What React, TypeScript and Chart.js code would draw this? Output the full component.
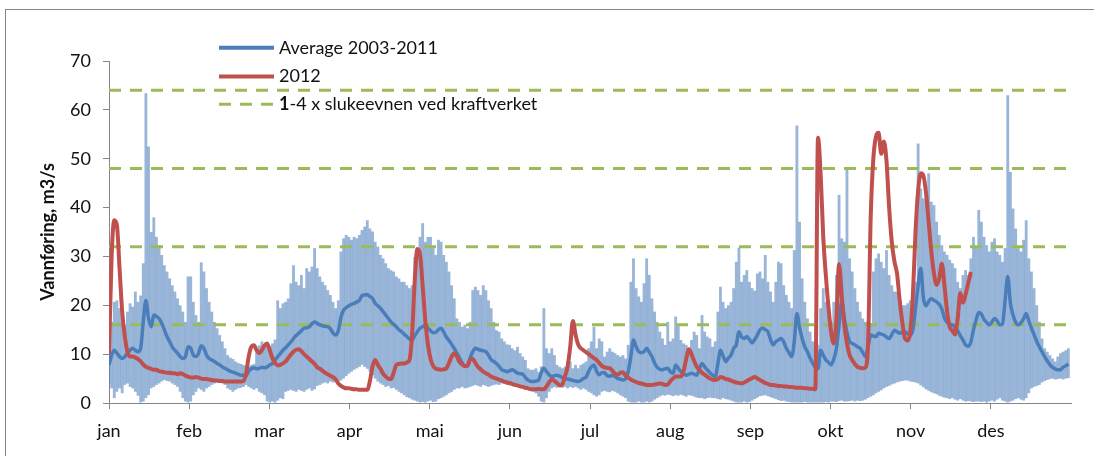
import { useEffect, useRef } from 'react';
import { Chart, registerables } from 'chart.js';

Chart.register(...registerables);

// ---------- data ----------
const MONTHS = ['jan', 'feb', 'mar', 'apr', 'mai', 'jun', 'jul', 'aug', 'sep', 'okt', 'nov', 'des'];
const DAYS_IN_YEAR = 365;
const Y_MIN = 0;
const Y_MAX = 70;
const Y_STEP = 10;
// 1-4 x slukeevnen ved kraftverket
const CAPACITY_LEVELS = [16, 32, 48, 64];

const SERIES_AVG_LABEL = 'Average 2003-2011';
const SERIES_2012_LABEL = '2012';
const CAPACITY_LABEL_BOLD = '1';
const CAPACITY_LABEL_REST = '-4 x slukeevnen ved kraftverket';
const Y_TITLE = 'Vannføring, m3/s';

// daily maximum 2003-2011
const MAX_2003_2011 = [
  11, 16.6, 20.7, 21, 19.4, 16.6, 16, 18.7, 20.4, 19.7,
  22.8, 20.7, 22, 28.6, 63.4, 52.5, 35, 38, 34, 32.3,
  30.3, 28.2, 26.9, 25.5, 24.1, 22.8, 21.4, 20, 18.7, 16.6,
  25.9, 25.9, 20.7, 18, 16.6, 28.8, 26.9, 23.5, 20.7, 18.7,
  16.6, 15.3, 13.9, 12.6, 11.2, 9.8, 9.3, 9, 8.5, 8.2,
  8, 7.8, 7.6, 7.5, 7.8, 8, 11.2, 11.8, 12.6, 11.8,
  12, 11.5, 12.2, 13, 21, 19.4, 20.4, 20.7, 21.4, 24.5,
  28.2, 24.8, 24.1, 26.2, 23.5, 27.6, 26.9, 27.9, 31.7, 27.6,
  25.9, 24.8, 24.1, 23.1, 22.1, 20.7, 19.4, 21, 31, 33.7,
  34.4, 34, 33.4, 34, 33.7, 34.4, 35.4, 36.1, 37.4, 35.7,
  35.1, 33, 32, 30.3, 29.6, 28.6, 27.6, 27.2, 26.9, 25.9,
  25.5, 24.8, 24.8, 24.1, 23.5, 24.1, 29.9, 31, 34, 36.8,
  33, 34, 34, 31.7, 30.3, 33.4, 33, 30.3, 28.9, 26.9,
  24.1, 21.4, 17.3, 16.6, 15.6, 16, 15.3, 16.6, 23.1, 23.8,
  23.1, 22.1, 24.1, 23.1, 21, 19.4, 16.6, 14.9, 14.6, 13.2,
  12.6, 12, 11.9, 11.2, 10.8, 11.5, 10.2, 9.5, 8.8, 7.1,
  6.8, 6.8, 7.1, 6.4, 7.5, 19.4, 11.2, 10.2, 11.2, 9.8,
  7.8, 7.4, 7.1, 7.4, 7.1, 8.5, 7.1, 7.8, 7.1, 7.8,
  8.1, 8.5, 11.2, 12.6, 15.6, 11.2, 13.2, 12.6, 9.5, 10.5,
  11.2, 10.5, 10.2, 9.8, 9.5, 9.8, 9.1, 11.9, 24.8, 29.6,
  23.5, 21.8, 20.7, 24.5, 29.6, 26.2, 21.4, 18.7, 16.6, 14.6,
  13.2, 11.9, 16.6, 12.6, 13.2, 17.7, 16, 12.9, 12.2, 11.9,
  11.2, 12.9, 14.6, 13.9, 11.2, 18, 14.6, 13.6, 13.2, 11.5,
  12.6, 18.7, 23.8, 20.7, 19.4, 20, 20.7, 23.5, 28.9, 31.8,
  24.8, 26.2, 27.2, 24.8, 23.5, 23, 26.5, 26.9, 25.5, 30.3,
  24.8, 22.8, 20.7, 24.8, 28.9, 28.6, 24.1, 22.1, 20.7, 19.4,
  31.3, 56.8, 37.1, 25.5, 20.7, 17.3, 14.6, 12.6, 11.2, 11.9,
  19.4, 23.5, 20.7, 18, 16.6, 20.7, 26.2, 42.6, 33.7, 33,
  48, 29.6, 26.9, 23.5, 20.7, 18.7, 17.3, 16.6, 15.3, 16.3,
  26.9, 29.6, 30.6, 28.9, 27.6, 31.3, 26.2, 24.1, 22.8, 22.8,
  21.4, 20, 20, 20.4, 21, 21.4, 24.8, 53.1, 43.9, 41.9,
  41.2, 47, 41.2, 40.5, 37.1, 34.4, 32.3, 31, 30.3, 29.3,
  28.6, 27.6, 24.8, 23.5, 26.2, 27.2, 26.2, 29.6, 34, 32,
  39.5, 37.1, 34, 32.3, 31, 33, 33.7, 31, 30.3, 28.9,
  31.7, 63, 47.3, 39.8, 35.7, 31.7, 31, 33.4, 37.4, 29.6,
  26.9, 23.5, 20, 16.6, 13.2, 11.2, 10.5, 9.8, 9.1, 8.5,
  9.5, 10.2, 10.5, 10.8, 11.2,
];

// daily minimum 2003-2011
const MIN_2003_2011 = [
  4, 3, 1, 2.3, 3, 2, 3.7, 4, 3.3, 3,
  2.3, 1.5, 0, 0.3, 1, 1.6, 3, 3.3, 3.7, 4,
  4.4, 4.7, 4.5, 4.4, 4, 3.7, 3.3, 2.3, 1, 0.3,
  0, 0.3, 1.6, 2.3, 3, 2.7, 2.3, 3, 3.3, 3.7,
  4, 4.2, 4.2, 4, 3.7, 3, 2.7, 2.3, 2.7, 3,
  3.1, 3.3, 3.7, 3.3, 3, 2.7, 3, 2.3, 2, 1.6,
  0.3, 0, 0.3, 0, 0.5, 1, 0.8, 2.3, 2.5, 2.7,
  2.5, 2.3, 2.7, 2.5, 2.3, 2.7, 3, 2.5, 2.8, 3.5,
  3.7, 4, 4.2, 4, 4.4, 4.2, 4.5, 4.4, 4.6, 5,
  5.5, 6, 6.4, 6.8, 7.1, 7.4, 7.8, 7.4, 7, 6.4,
  5.7, 5, 4.4, 4, 3.7, 3.3, 3.5, 3, 3.1, 2.7,
  2.3, 2, 1.6, 1.2, 1, 0.7, 0.5, 0.3, 0, 0.2,
  0, 0.3, 0.5, 0.2, 0.3, 0.8, 1, 1.3, 1.6, 2,
  2.3, 2.7, 3, 3, 3.3, 3, 3.1, 3.3, 3.5, 3.7,
  3.5, 3.3, 3.7, 3.5, 3.3, 3.5, 3.7, 3.8, 3.7, 4,
  3.9, 3.7, 3.6, 3.7, 3.5, 3.7, 3.3, 3.5, 3.1, 3,
  2.7, 2.3, 2, 1.3, 0.3, 0, 1, 2.3, 3, 3.3,
  3.1, 3.3, 3.1, 3.3, 3, 3.3, 3.1, 3.3, 3, 2.7,
  3, 2.7, 2.3, 2, 1.6, 1.3, 1.6, 2.3, 2.5, 2.3,
  2.2, 2.5, 2.3, 2, 1.6, 1.3, 1, 0.3, 0, 0,
  0, 0.3, 0, 0, 0.3, 0, 0.3, 0.7, 1, 1.3,
  1.6, 1.5, 1.7, 1.6, 1.4, 1.6, 1.5, 1.7, 1.5, 1.3,
  1.6, 1.5, 1.3, 1.1, 1, 1, 0.8, 1, 1.1, 1,
  1, 0.8, 0.7, 1, 0.8, 0.7, 0.5, 0.3, 0, 0,
  0, 0.3, 0, 0.2, 0.5, 0.8, 1.1, 1.4, 1.5, 1.6,
  1.4, 1.2, 1, 0.8, 0.6, 0.4, 0.5, 0.3, 0.2, 0.1,
  0, 0, 0, 0, 0.2, 0, 0, 0, 0.1, 0,
  0, 0, 0.2, 0, 0.3, 0.3, 0.2, 0.4, 0.5, 0.3,
  0.3, 0.4, 0.5, 0.3, 0.5, 0.4, 0.5, 0.7, 1, 1.3,
  1.6, 2, 2.3, 2.6, 3, 3.3, 3.5, 3.8, 4, 4.2,
  4.4, 4.5, 4.6, 4.6, 4.4, 4.3, 4.2, 4, 3.6, 3.2,
  2.8, 2.5, 2.2, 2, 1.8, 1.5, 1.3, 1.1, 1, 0.8,
  1, 0.7, 0.5, 0.8, 0.5, 0.3, 0.4, 0.3, 0.2, 0.3,
  0.3, 0.2, 0.3, 0.1, 0.3, 0.5, 0.3, 0.7, 1, 0.5,
  0.3, 0, 0.3, 0.5, 0.8, 1, 0.7, 0.5, 1, 2,
  3, 3.3, 3.5, 3.7, 4.2, 4.5, 4.7, 4.9, 5, 4.8,
  4.9, 5, 4.8, 5, 5.1,
];

// daily average 2003-2011
const AVG_2003_2011 = [
  7.8, 9.8, 10.8, 10.2, 9.5, 9.1, 9.5, 10.2, 10.8, 11.2,
  10.8, 10.5, 11.2, 16.6, 21, 17.3, 15.6, 18, 17.7, 17.3,
  16.3, 15, 13.6, 12.6, 11.5, 10.8, 10.2, 9.5, 9.1, 9.5,
  11.5, 11.2, 9.8, 9.5, 10.2, 11.7, 11.2, 9.8, 9.1, 8.8,
  8.5, 8.1, 7.8, 7.4, 7.1, 6.8, 6.5, 6.3, 6.1, 5.9,
  5.7, 5.7, 5.6, 6.5, 7, 7.2, 7, 7.1, 7.3, 7.2,
  7.4, 7.8, 8.1, 8.8, 9.5, 10.1, 10.8, 11.3, 11.9, 12.5,
  13.2, 13.8, 14.3, 14.8, 15.3, 15.4, 15.6, 16.2, 16.6, 16.3,
  16, 15.8, 15.7, 15.6, 15.2, 14.3, 13.9, 14.8, 17.5, 19,
  19.5, 19.9, 20.2, 20.4, 20.7, 21, 22, 22.1, 22.2, 21.8,
  21.4, 20.4, 19.9, 19.4, 18.7, 18, 17.3, 16.6, 16.1, 15.6,
  15, 14.6, 14.1, 13.6, 13.1, 12.9, 13.8, 14.6, 15.3, 15.6,
  16, 15.3, 14.8, 14.4, 14.5, 15, 15.3, 14.5, 13.5, 12.8,
  12, 11.2, 10.2, 9.2, 8.2, 7.6, 7.6, 9.2, 10.5, 11.2,
  11, 10.8, 10.7, 10.5, 9.8, 8.9, 8.5, 8.1, 7.5, 6.8,
  6.6, 6.4, 6.6, 6.8, 6.5, 6.1, 6, 5.9, 5.2, 4.7,
  4.4, 4.4, 4.5, 4.7, 6.2, 7.1, 6.4, 5.8, 5.4, 5.6,
  5.7, 5.5, 5.2, 5, 4.9, 4.8, 4.6, 4.5, 4.4, 4.6,
  5, 5.3, 6.5, 7.4, 7.8, 6.5, 5.8, 6.2, 6.2, 5.6,
  5.5, 5.7, 5.4, 5, 4.9, 4.7, 5, 6.4, 9.5, 12.9,
  11.5, 10.5, 10.3, 10.5, 11.2, 10.4, 9.5, 8.2, 7.3, 6.9,
  6.8, 7, 7.1, 6.4, 6.1, 7.8, 7.1, 6.4, 6, 5.7,
  5.9, 6.1, 5.9, 5.7, 7, 8.1, 7.4, 6.8, 6.2, 5.7,
  5.4, 8, 10.8, 9.6, 8.5, 9.2, 9.8, 11.2, 11.9, 14.6,
  13.5, 13.2, 13.6, 13, 12.3, 13, 13.9, 15, 15.3, 15,
  14.6, 13, 11.9, 12.6, 12.9, 13.2, 12.5, 11.2, 10.3, 9.5,
  12.5, 18.3, 15.5, 13.2, 11.5, 10.5, 9.2, 8.1, 7.3, 7,
  10.8, 9.8, 8.8, 8.3, 7.8, 9, 11.2, 16, 20.7, 17.3,
  14.5, 12.6, 12.2, 11.9, 11.5, 11.2, 10.3, 9.5, 11.5, 13.9,
  13.7, 13.6, 14.3, 14.1, 13.9, 13.5, 13.2, 14, 14.9, 14.6,
  14.3, 14.5, 14.6, 14.2, 13.9, 15, 19.4, 24, 27.6, 21.5,
  19.9, 20.8, 21.4, 21, 20.7, 20.2, 19.2, 17.4, 16.5, 16.1,
  16, 15.4, 14.8, 13.8, 12.9, 11.9, 11.6, 12.5, 15, 17,
  18.5, 18.2, 17.1, 16.5, 16, 16.6, 17.3, 16.8, 16, 16.2,
  21, 25.9, 20.5, 18, 16.5, 16, 16.4, 17.2, 18.3, 16.8,
  15.3, 14, 12.6, 11.5, 10.5, 9.5, 8.6, 7.8, 7.3, 7,
  6.8, 6.8, 7.3, 7.6, 8,
];

// daily flow 2012 (ends late November)
const FLOW_2012 = [
  10, 30, 37.4, 36.4, 27.6, 18.7, 13.6, 10.5, 9.5, 9.5,
  9.3, 9, 8.5, 7.9, 7.4, 7.2, 7, 6.8, 6.8, 6.5,
  6.4, 6.3, 6.2, 6.2, 6.1, 6.1, 5.9, 6.1, 5.9, 5.6,
  5.4, 5.2, 5.2, 5.3, 5.2, 5, 4.9, 4.9, 4.8, 4.7,
  4.6, 4.6, 4.5, 4.5, 4.4, 4.4, 4.4, 4.4, 4.4, 4.4,
  4.4, 4.5, 6, 9.5, 11.5, 11.8, 10.8, 10.2, 10.8, 11.8,
  12.2, 10.8, 9.2, 8.2, 7.7, 7.8, 8.1, 8.5, 9.2, 9.9,
  10.5, 10.9, 11, 10.6, 10, 9.5, 9, 8.5, 8, 7.3,
  7, 6.6, 6.2, 5.9, 5.6, 5.3, 4.8, 4, 3.5, 3.2,
  3, 3, 2.9, 2.8, 2.8, 2.7, 2.7, 2.7, 2.7, 4.5,
  7.5, 8.8, 7.8, 7, 6, 5.4, 5, 4.9, 6.2, 7.8,
  8, 8.1, 8.1, 8.3, 8.8, 14, 25, 31.5, 30.5, 24,
  17, 12, 9, 7.6, 7, 6.9, 6.8, 6.9, 7.1, 8.2,
  9.5, 10.2, 9.5, 8.4, 7.9, 7.5, 7.6, 8.8, 9, 8.2,
  7.4, 6.9, 6.4, 6.1, 5.8, 5.4, 5.2, 5, 4.8, 4.6,
  4.4, 4.2, 4.1, 3.9, 3.7, 3.6, 3.4, 3.3, 3.1, 3,
  2.8, 2.8, 2.8, 2.9, 2.8, 2.8, 3.4, 4.2, 4.8, 4.5,
  4.1, 3.6, 3.8, 5.5, 7.5, 11.5, 16.8, 14, 12, 11.2,
  10.8, 10.4, 10, 9.6, 9.2, 8.8, 8.2, 7.6, 7.3, 7.2,
  7.1, 6.6, 6, 5.8, 6.2, 6.3, 5.6, 5.2, 4.8, 4.5,
  4.3, 4.1, 4, 3.8, 3.7, 3.7, 3.7, 3.8, 3.9, 4,
  3.9, 3.7, 3.8, 4.5, 5, 5.4, 5.4, 5.4, 6.5, 9,
  11, 10, 8.6, 7.4, 6.8, 6.2, 5.8, 5.4, 5, 4.8,
  4.7, 4.9, 5.3, 5.2, 4.9, 4.8, 4.6, 4.4, 4.2, 4.1,
  4, 4.2, 4.5, 4.8, 5.1, 5.3, 5, 4.7, 4.4, 4.1,
  3.9, 3.7, 3.7, 3.6, 3.5, 3.5, 3.4, 3.4, 3.3, 3.3,
  3.2, 3.1, 3.1, 3.1, 3, 3, 2.9, 2.9, 2.8, 54.3,
  47, 34, 26, 19.5, 14.5, 12.2, 17, 28.4, 22, 16,
  12.2, 9.8, 8.8, 8, 7.4, 7.2, 7.1, 7.3, 12, 38,
  50, 54.5, 55.3, 51, 53.5, 49.5, 40, 33, 29, 26.5,
  21, 16.5, 13.2, 12.8, 14.5, 22, 35, 43.5, 47, 46.5,
  43, 37, 31, 26.5, 24.2, 25.5, 28.5, 24, 18.7, 15.5,
  14.8, 14, 17.3, 22.5, 20.5, 22.2, 24.5, 26.8,
];

// ---------- styles ----------
const FONT_FAMILY = 'Lato, "Noto Sans", "DejaVu Sans", sans-serif';
const FONT_SIZE = 18;
const TEXT_COLOR = '#111111';
const AXIS_COLOR = '#868686';
const BLUE = '#4a7ebb';
const RED = '#c0504d';
const GREEN = '#9bbb59';
const BAR_COLOR = 'rgba(79,129,189,0.58)';
const LIMIT_DASH = [12, 9];

const framePlugin = {
  id: 'outerFrame',
  beforeDraw(chart: any) {
    const { ctx, width, height } = chart;
    ctx.save();
    ctx.fillStyle = '#ffffff';
    ctx.fillRect(0, 0, width, height);
    ctx.strokeStyle = AXIS_COLOR;
    ctx.lineWidth = 1;
    ctx.strokeRect(5.5, 9.5, width + 40, height + 40);
    ctx.restore();
  },
};

const legendPlugin = {
  id: 'refLegend',
  afterDraw(chart: any) {
    const { ctx } = chart;
    const x0 = 219;
    const x1 = 274;
    const tx = 279;
    const rows = [
      { y: 47.7, color: BLUE, width: 4, dash: [] as number[], parts: [{ t: SERIES_AVG_LABEL, bold: false }] },
      { y: 76.5, color: RED, width: 4, dash: [] as number[], parts: [{ t: SERIES_2012_LABEL, bold: false }] },
      {
        y: 104.3, color: GREEN, width: 3, dash: LIMIT_DASH,
        parts: [{ t: CAPACITY_LABEL_BOLD, bold: true }, { t: CAPACITY_LABEL_REST, bold: false }],
      },
    ];
    ctx.save();
    for (const r of rows) {
      ctx.beginPath();
      ctx.setLineDash(r.dash);
      ctx.lineCap = 'butt';
      ctx.strokeStyle = r.color;
      ctx.lineWidth = r.width;
      ctx.moveTo(x0, r.y);
      ctx.lineTo(x1, r.y);
      ctx.stroke();
      ctx.setLineDash([]);
      let x = tx;
      ctx.fillStyle = TEXT_COLOR;
      ctx.textBaseline = 'middle';
      ctx.textAlign = 'left';
      for (const p of r.parts) {
        ctx.font = `${p.bold ? 'bold ' : ''}${FONT_SIZE}px ${FONT_FAMILY}`;
        ctx.fillText(p.t, x, r.y);
        x += ctx.measureText(p.t).width;
      }
    }
    ctx.restore();
  },
};

export default function App() {
  const ref = useRef<HTMLCanvasElement | null>(null);

  useEffect(() => {
    const canvas = ref.current;
    if (!canvas) return;

    const barData = MAX_2003_2011.map((v, i) => ({ x: i, y: [MIN_2003_2011[i], v] }));
    const avgData = AVG_2003_2011.map((v, i) => ({ x: i, y: v }));
    const flowData = FLOW_2012.map((v, i) => ({ x: i, y: v }));

    const limitSets = CAPACITY_LEVELS.map((lvl, k) => ({
      type: 'line' as const,
      label: k === 0 ? CAPACITY_LABEL_BOLD + CAPACITY_LABEL_REST : '',
      data: [{ x: 0, y: lvl }, { x: DAYS_IN_YEAR, y: lvl }],
      borderColor: GREEN,
      borderWidth: 3,
      borderDash: LIMIT_DASH,
      borderCapStyle: 'butt' as const,
      pointRadius: 0,
      fill: false,
      order: 2,
    }));

    const tickFont = { family: FONT_FAMILY, size: FONT_SIZE };

    const chart = new Chart(canvas, {
      type: 'bar',
      data: {
        datasets: [
          {
            type: 'line',
            label: SERIES_2012_LABEL,
            data: flowData,
            borderColor: RED,
            borderWidth: 4,
            pointRadius: 0,
            cubicInterpolationMode: 'monotone',
            fill: false,
            order: 0,
          } as any,
          {
            type: 'line',
            label: SERIES_AVG_LABEL,
            data: avgData,
            borderColor: BLUE,
            borderWidth: 3.5,
            pointRadius: 0,
            cubicInterpolationMode: 'monotone',
            fill: false,
            order: 1,
          } as any,
          ...limitSets,
          {
            type: 'bar',
            label: 'min-max 2003-2011',
            data: barData,
            backgroundColor: BAR_COLOR,
            borderWidth: 0,
            barPercentage: 1.08,
            categoryPercentage: 1,
            order: 3,
          } as any,
        ],
      },
      options: {
        animation: false,
        responsive: false,
        maintainAspectRatio: false,
        events: [],
        layout: { padding: { left: 0, right: 23, top: 61, bottom: 0 } },
        plugins: {
          legend: { display: false },
          tooltip: { enabled: false },
        },
        scales: {
          x: {
            type: 'linear',
            min: 0,
            max: DAYS_IN_YEAR,
            offset: false,
            afterBuildTicks: (scale: any) => {
              scale.ticks = MONTHS.map((_, i) => ({ value: (i * DAYS_IN_YEAR) / 12 }));
            },
            afterFit: (scale: any) => {
              scale.height = 53;
            },
            ticks: {
              autoSkip: false,
              maxRotation: 0,
              padding: 11,
              color: TEXT_COLOR,
              font: tickFont,
              callback: (_v: any, i: number) => MONTHS[i],
            },
            grid: { drawOnChartArea: false, offset: false, tickLength: 6, color: AXIS_COLOR, lineWidth: 1 },
            border: { display: true, color: AXIS_COLOR, width: 1 },
          },
          y: {
            type: 'linear',
            min: Y_MIN,
            max: Y_MAX,
            afterFit: (scale: any) => {
              scale.width = 109;
            },
            ticks: {
              stepSize: Y_STEP,
              padding: 12,
              color: TEXT_COLOR,
              font: tickFont,
            },
            grid: { drawOnChartArea: false, tickLength: 6, color: AXIS_COLOR, lineWidth: 1 },
            border: { display: true, color: AXIS_COLOR, width: 1 },
            title: {
              display: true,
              text: Y_TITLE,
              color: TEXT_COLOR,
              font: { family: FONT_FAMILY, size: 18, weight: 'bold' },
              padding: { top: 37, bottom: 0 },
            },
          },
        },
      } as any,
      plugins: [framePlugin, legendPlugin],
    });

    return () => {
      chart.destroy();
    };
  }, []);

  return (
    <div style={{ position: 'absolute', left: 0, top: 0, width: 1094, height: 456, overflow: 'hidden', background: '#fff' }}>
      <canvas ref={ref} width={1094} height={456} style={{ width: 1094, height: 456, display: 'block' }} />
    </div>
  );
}
